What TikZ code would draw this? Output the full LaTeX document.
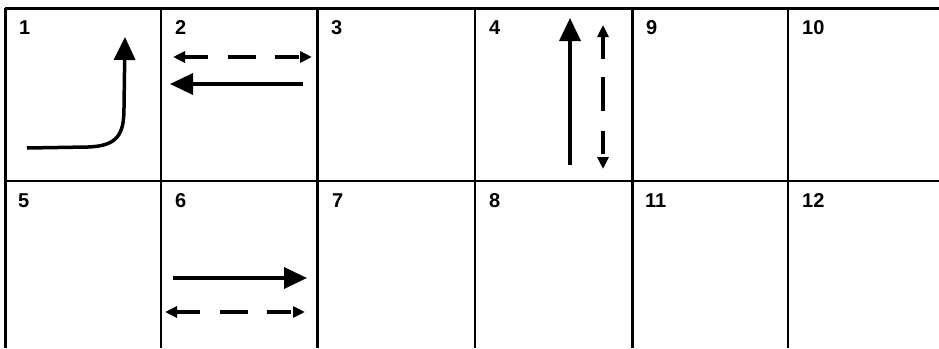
\documentclass[tikz,border=0pt]{standalone}
\usepackage{fontspec}
\setmainfont{Liberation Sans}
\usetikzlibrary{arrows.meta}

\begin{document}
\begin{tikzpicture}[x=1pt, y=-1pt,
        heavy/.style={line width=3pt},
        light/.style={line width=1.3pt},
        celllabel/.style={anchor=west, inner sep=0pt, font=\bfseries\fontsize{20}{20}\selectfont},
        bigarrow/.style={-{Triangle[length=23pt, width=21pt]}, line width=3.5pt},
        dasharrow/.style={{Triangle[length=12pt, width=11pt]}-{Triangle[length=12pt, width=11pt]}, line width=3.5pt}
    ]
        \useasboundingbox (0,0) rectangle (939,348);

        % Grid
        \draw[heavy] (5,8) -- (939,8);
        \draw[line width=2pt] (5,181) -- (939,181);
        \draw[heavy] (5,8) -- (5,348);
        \foreach \x in {161,475,788} \draw[light] (\x,8) -- (\x,348);
        \foreach \x in {317,632} \draw[heavy] (\x,8) -- (\x,348);

        % Cell numbers
        \foreach \n/\x/\y in {1/19/28, 2/175/28, 3/331/28, 4/489/28, 9/646/28, 10/802/28,
                              5/18/201, 6/175/201, 7/332/201, 8/489/201, 11/645/201, 12/802/201}
            \node[celllabel] (c\n) at (\x,\y) {\n};

        % Movements
        \coordinate (turnA) at (27,148);
        \coordinate (turnB) at (125,37);
        \draw[bigarrow] (turnA) -- (88,147) .. controls (118,146) and (124,134) .. (124,108) -- (turnB);

        \coordinate (walkW) at (173,57);
        \coordinate (walkE) at (312,57);
        \draw[dasharrow, dash pattern=on 24pt off 19.5pt on 28pt off 19.5pt] (walkW) -- (walkE);
        \coordinate (westA) at (303,84);
        \coordinate (westB) at (170,84);
        \draw[bigarrow] (westA) -- (westB);

        \coordinate (northA) at (570,165);
        \coordinate (northB) at (570,18);
        \draw[bigarrow] (northA) -- (northB);
        \coordinate (walkN) at (603,25);
        \coordinate (walkS) at (603,169);
        \draw[dasharrow, dash pattern=on 23pt off 18pt on 34pt off 20pt] (walkN) -- (walkS);

        \coordinate (eastA) at (173,278);
        \coordinate (eastB) at (307,278);
        \draw[bigarrow] (eastA) -- (eastB);
        \coordinate (walkW2) at (165,312);
        \coordinate (walkE2) at (305,312);
        \draw[dasharrow, dash pattern=on 24pt off 19.5pt on 28pt off 19.5pt] (walkW2) -- (walkE2);
    \end{tikzpicture}
\end{document}
